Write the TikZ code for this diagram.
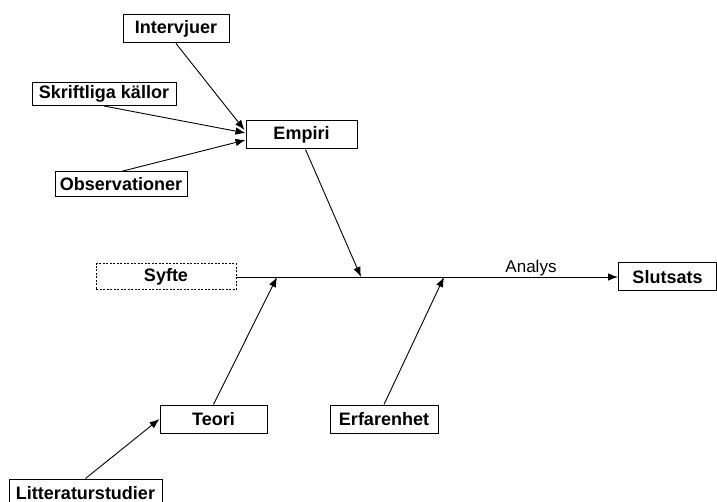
\documentclass[tikz,border=0pt]{standalone}
\usepackage{fontspec}
\setmainfont{Liberation Sans}
\usetikzlibrary{arrows.meta,calc}
\begin{document}
\begin{tikzpicture}[x=1pt,y=-1pt,
  box/.style={draw,line width=1pt,fill=white,inner sep=0pt,
    font=\fontsize{18}{20}\selectfont\bfseries},
  conn/.style={line width=0.9pt,-{Latex[length=10pt,width=7.5pt]}}]
\useasboundingbox (0,0) rectangle (717,502);
\node[box,minimum width=106pt,minimum height=28pt] (intervjuer) at (176,29) {Intervjuer};
\node[box,minimum width=144pt,minimum height=23pt] (skriftliga) at (104,94) {Skriftliga källor};
\node[box,minimum width=132pt,minimum height=25pt] (obs) at (121,184.5) {Observationer};
\node[box,minimum width=111pt,minimum height=28pt] (empiri) at (301.5,135) {Empiri};
\node[box,dashed,dash pattern=on 2pt off 1.5pt,minimum width=140pt,minimum height=26pt] (syfte) at (166,277) {Syfte};
\node[box,minimum width=98pt,minimum height=28pt] (slutsats) at (667.5,277) {Slutsats};
\node[box,minimum width=107pt,minimum height=28pt] (teori) at (213.5,419) {Teori};
\node[box,minimum width=108pt,minimum height=28pt] (erf) at (384,419) {Erfarenhet};
\node[box,minimum width=153pt,minimum height=28pt] (lit) at (85.5,493) {Litteraturstudier};
\node[font=\fontsize{17}{19}\selectfont] (analys) at (531,268) {Analys};
\coordinate (m1) at (277,277);
\coordinate (m2) at (361,277);
\coordinate (m3) at (444,277);
\draw[conn] (syfte.east) -- (slutsats.west);
\draw[conn] (intervjuer.south) -- ($(empiri.west)+(-1,-5)$);
\draw[conn] (skriftliga.south) -- ($(empiri.west)+(0,-2)$);
\draw[conn] (obs.north) -- ($(empiri.west)+(0,5)$);
\draw[conn] ($(empiri.south)+(4,0)$) -- (m2);
\draw[conn] (teori.north) -- (m1);
\draw[conn] (erf.north) -- (m3);
\draw[conn] (lit.north) -- (teori.west);
\end{tikzpicture}
\end{document}
